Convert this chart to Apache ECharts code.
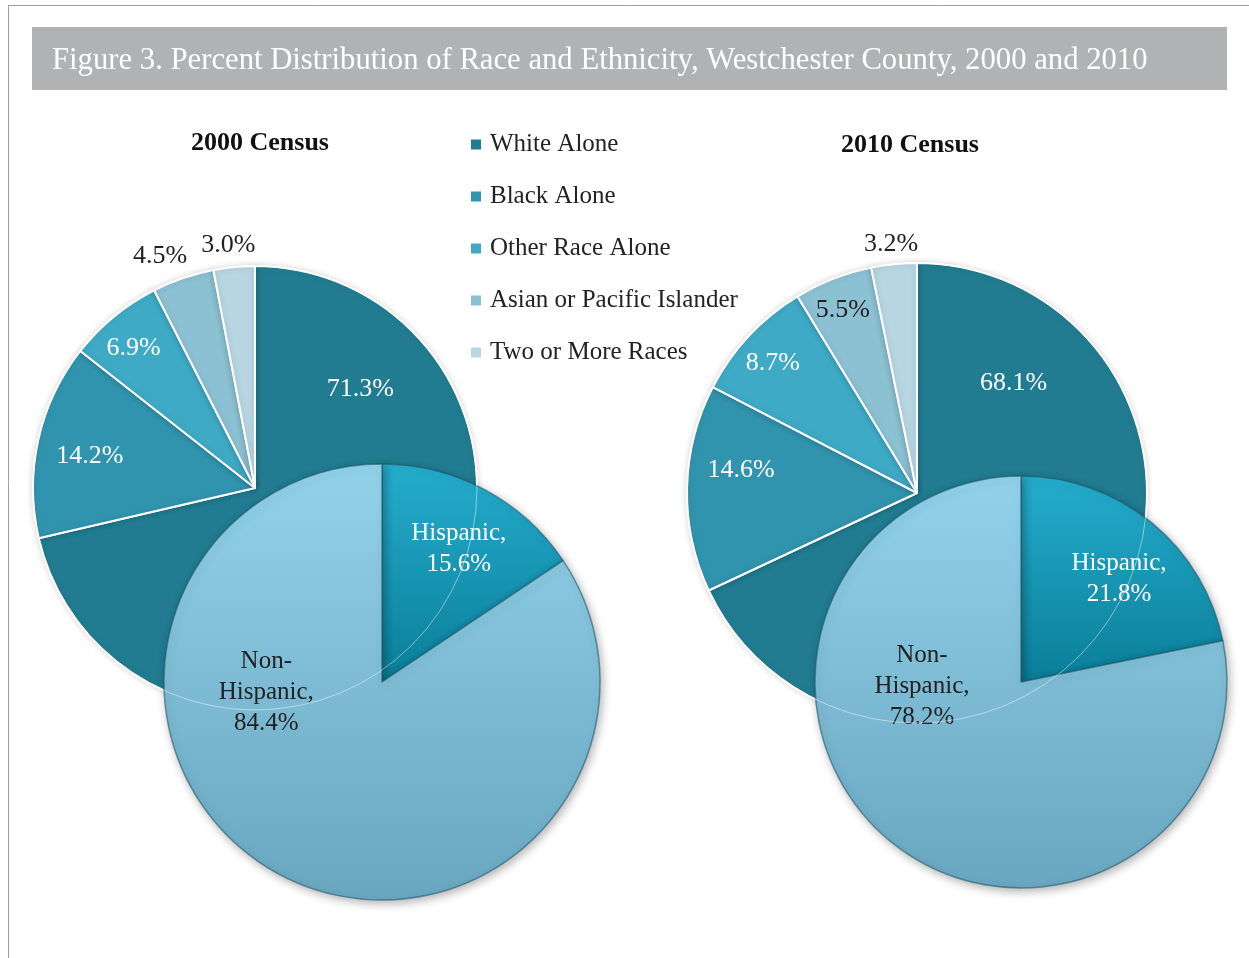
<!DOCTYPE html>
<html>
<head>
<meta charset="utf-8">
<style>
  html, body { margin: 0; padding: 0; background: #fff; }
  #main { width: 1249px; height: 958px; }
</style>
<script src="https://cdn.jsdelivr.net/npm/echarts@6/dist/echarts.min.js"></script>
</head>
<body>
<div id="main"></div>
<script>
// data
var raceNames = ['White Alone', 'Black Alone', 'Other Race Alone', 'Asian or Pacific Islander', 'Two or More Races'];
var race2000 = [71.3, 14.2, 6.9, 4.5, 3.0];
var race2010 = [68.1, 14.6, 8.7, 5.5, 3.2];
var ethNames = ['Hispanic', 'Non-Hispanic'];
var eth2000 = [15.6, 84.4];
var eth2010 = [21.8, 78.2];

var raceColors = ['#217c91', '#3194ae', '#3faac6', '#8cc0d3', '#b7d6e2'];
var serif = '"Liberation Serif", "DejaVu Serif", serif';

// label nudges (Excel "best fit" placement)
var off2000 = [[16, -170], [-54, -7], [-49, -52], [-58, -124], [-16, -129]];
var off2010 = [[-3, -173], [-58, -20], [-58, -49], [-31, -73], [-14, -131]];
var offEth2000 = [[24, -34], [-63, -88]];
var offEth2010 = [[31, -21], [-32, -78]];
// which race labels are dark (outside or on pale slices)
var dark2000 = [false, false, false, true, true];
var dark2010 = [false, false, false, true, true];

function raceData(vals, dark) {
  return raceNames.map(function (n, i) {
    return {
      name: n, value: vals[i],
      itemStyle: { color: raceColors[i] },
      label: { color: dark[i] ? '#222' : '#fff' }
    };
  });
}

var hispColor = new echarts.graphic.LinearGradient(0, 0, 0, 1, [
  { offset: 0, color: '#25adcd' }, { offset: 1, color: '#0a7e99' }]);
var nonColor = new echarts.graphic.LinearGradient(0, 0, 0, 1, [
  { offset: 0, color: '#92d2ea' }, { offset: 1, color: '#69a6bf' }]);

function ethData(vals) {
  return ethNames.map(function (n, i) {
    return {
      name: n, value: vals[i],
      itemStyle: { color: i === 0 ? hispColor : nonColor },
      label: { color: i === 0 ? '#fff' : '#222' }
    };
  });
}

function racePie(cx, cy, r, vals, dark, offs) {
  return {
    type: 'pie', center: [cx, cy], radius: r, startAngle: 90, clockwise: true,
    avoidLabelOverlap: false, z: 2,
    itemStyle: { borderColor: '#fff', borderWidth: 2, shadowBlur: 6, shadowColor: 'rgba(0,0,0,0.15)' },
    label: { position: 'inside', formatter: function (p) { return p.value.toFixed(1) + '%'; },
             fontFamily: serif, fontSize: 26 },
    labelLine: { show: false },
    labelLayout: function (p) { return { dx: offs[p.dataIndex][0], dy: offs[p.dataIndex][1] }; },
    emphasis: { disabled: true },
    data: raceData(vals, dark)
  };
}

function ethPie(cx, cy, r, vals, offs) {
  return {
    type: 'pie', center: [cx, cy], radius: r, startAngle: 90, clockwise: true,
    avoidLabelOverlap: false, z: 5,
    itemStyle: { borderColor: 'rgba(30,90,110,0.6)', borderWidth: 1.5,
                 shadowBlur: 10, shadowOffsetX: 2, shadowOffsetY: 3, shadowColor: 'rgba(0,0,0,0.3)' },
    label: {
      position: 'inside', fontFamily: serif, fontSize: 25, lineHeight: 31,
      formatter: function (p) {
        var head = p.name === 'Non-Hispanic' ? 'Non-\nHispanic,' : p.name + ',';
        return head + '\n' + p.value.toFixed(1) + '%';
      }
    },
    labelLine: { show: false },
    labelLayout: function (p) { return { dx: offs[p.dataIndex][0], dy: offs[p.dataIndex][1] }; },
    emphasis: { disabled: true },
    data: ethData(vals)
  };
}

// faint outline of the race pie showing through the ethnicity pie
function ghostRing(cx, cy, r) {
  return {
    type: 'pie', center: [cx, cy], radius: r, silent: true, z: 6,
    label: { show: false }, labelLine: { show: false },
    itemStyle: { color: 'rgba(0,0,0,0)', borderColor: 'rgba(255,255,255,0.45)', borderWidth: 1 },
    data: [{ name: 'ring', value: 1 }]
  };
}

var chart = echarts.init(document.getElementById('main'));
chart.setOption({
  backgroundColor: '#fff',
  animation: false,
  graphic: [
    { type: 'line', shape: { x1: 8, y1: 5.5, x2: 1249, y2: 5.5 }, style: { stroke: '#a0a0a0', lineWidth: 1 } },
    { type: 'line', shape: { x1: 8.5, y1: 5, x2: 8.5, y2: 958 }, style: { stroke: '#a0a0a0', lineWidth: 1 } },
    { type: 'rect', shape: { x: 32, y: 27, width: 1195, height: 63 }, style: { fill: '#b1b2b4' }, z: -1 }
  ],
  title: [
    { text: 'Figure 3. Percent Distribution of Race and Ethnicity, Westchester County, 2000 and 2010',
      left: 47, top: 40, textStyle: { color: '#fff', fontFamily: serif, fontSize: 30.7, fontWeight: 'normal' } },
    { text: '2000 Census', left: 255, top: 125, textAlign: 'center',
      textStyle: { color: '#111', fontFamily: serif, fontSize: 26, fontWeight: 'bold' } },
    { text: '2010 Census', left: 905, top: 127, textAlign: 'center',
      textStyle: { color: '#111', fontFamily: serif, fontSize: 26, fontWeight: 'bold' } }
  ],
  legend: {
    data: raceNames, orient: 'vertical', left: 464, top: 127,
    icon: 'rect', itemWidth: 12, itemHeight: 12, itemGap: 27,
    selectedMode: false,
    textStyle: { fontFamily: serif, fontSize: 25, color: '#222', padding: [0, 0, 0, 3] }
  },
  series: [
    racePie(255, 488, 222, race2000, dark2000, off2000),
    racePie(917, 493, 230, race2010, dark2010, off2010),
    ethPie(382, 682, 218, eth2000, offEth2000),
    ethPie(1021, 682, 206, eth2010, offEth2010),
    ghostRing(255, 488, 222),
    ghostRing(917, 493, 230)
  ]
});
</script>
</body>
</html>
